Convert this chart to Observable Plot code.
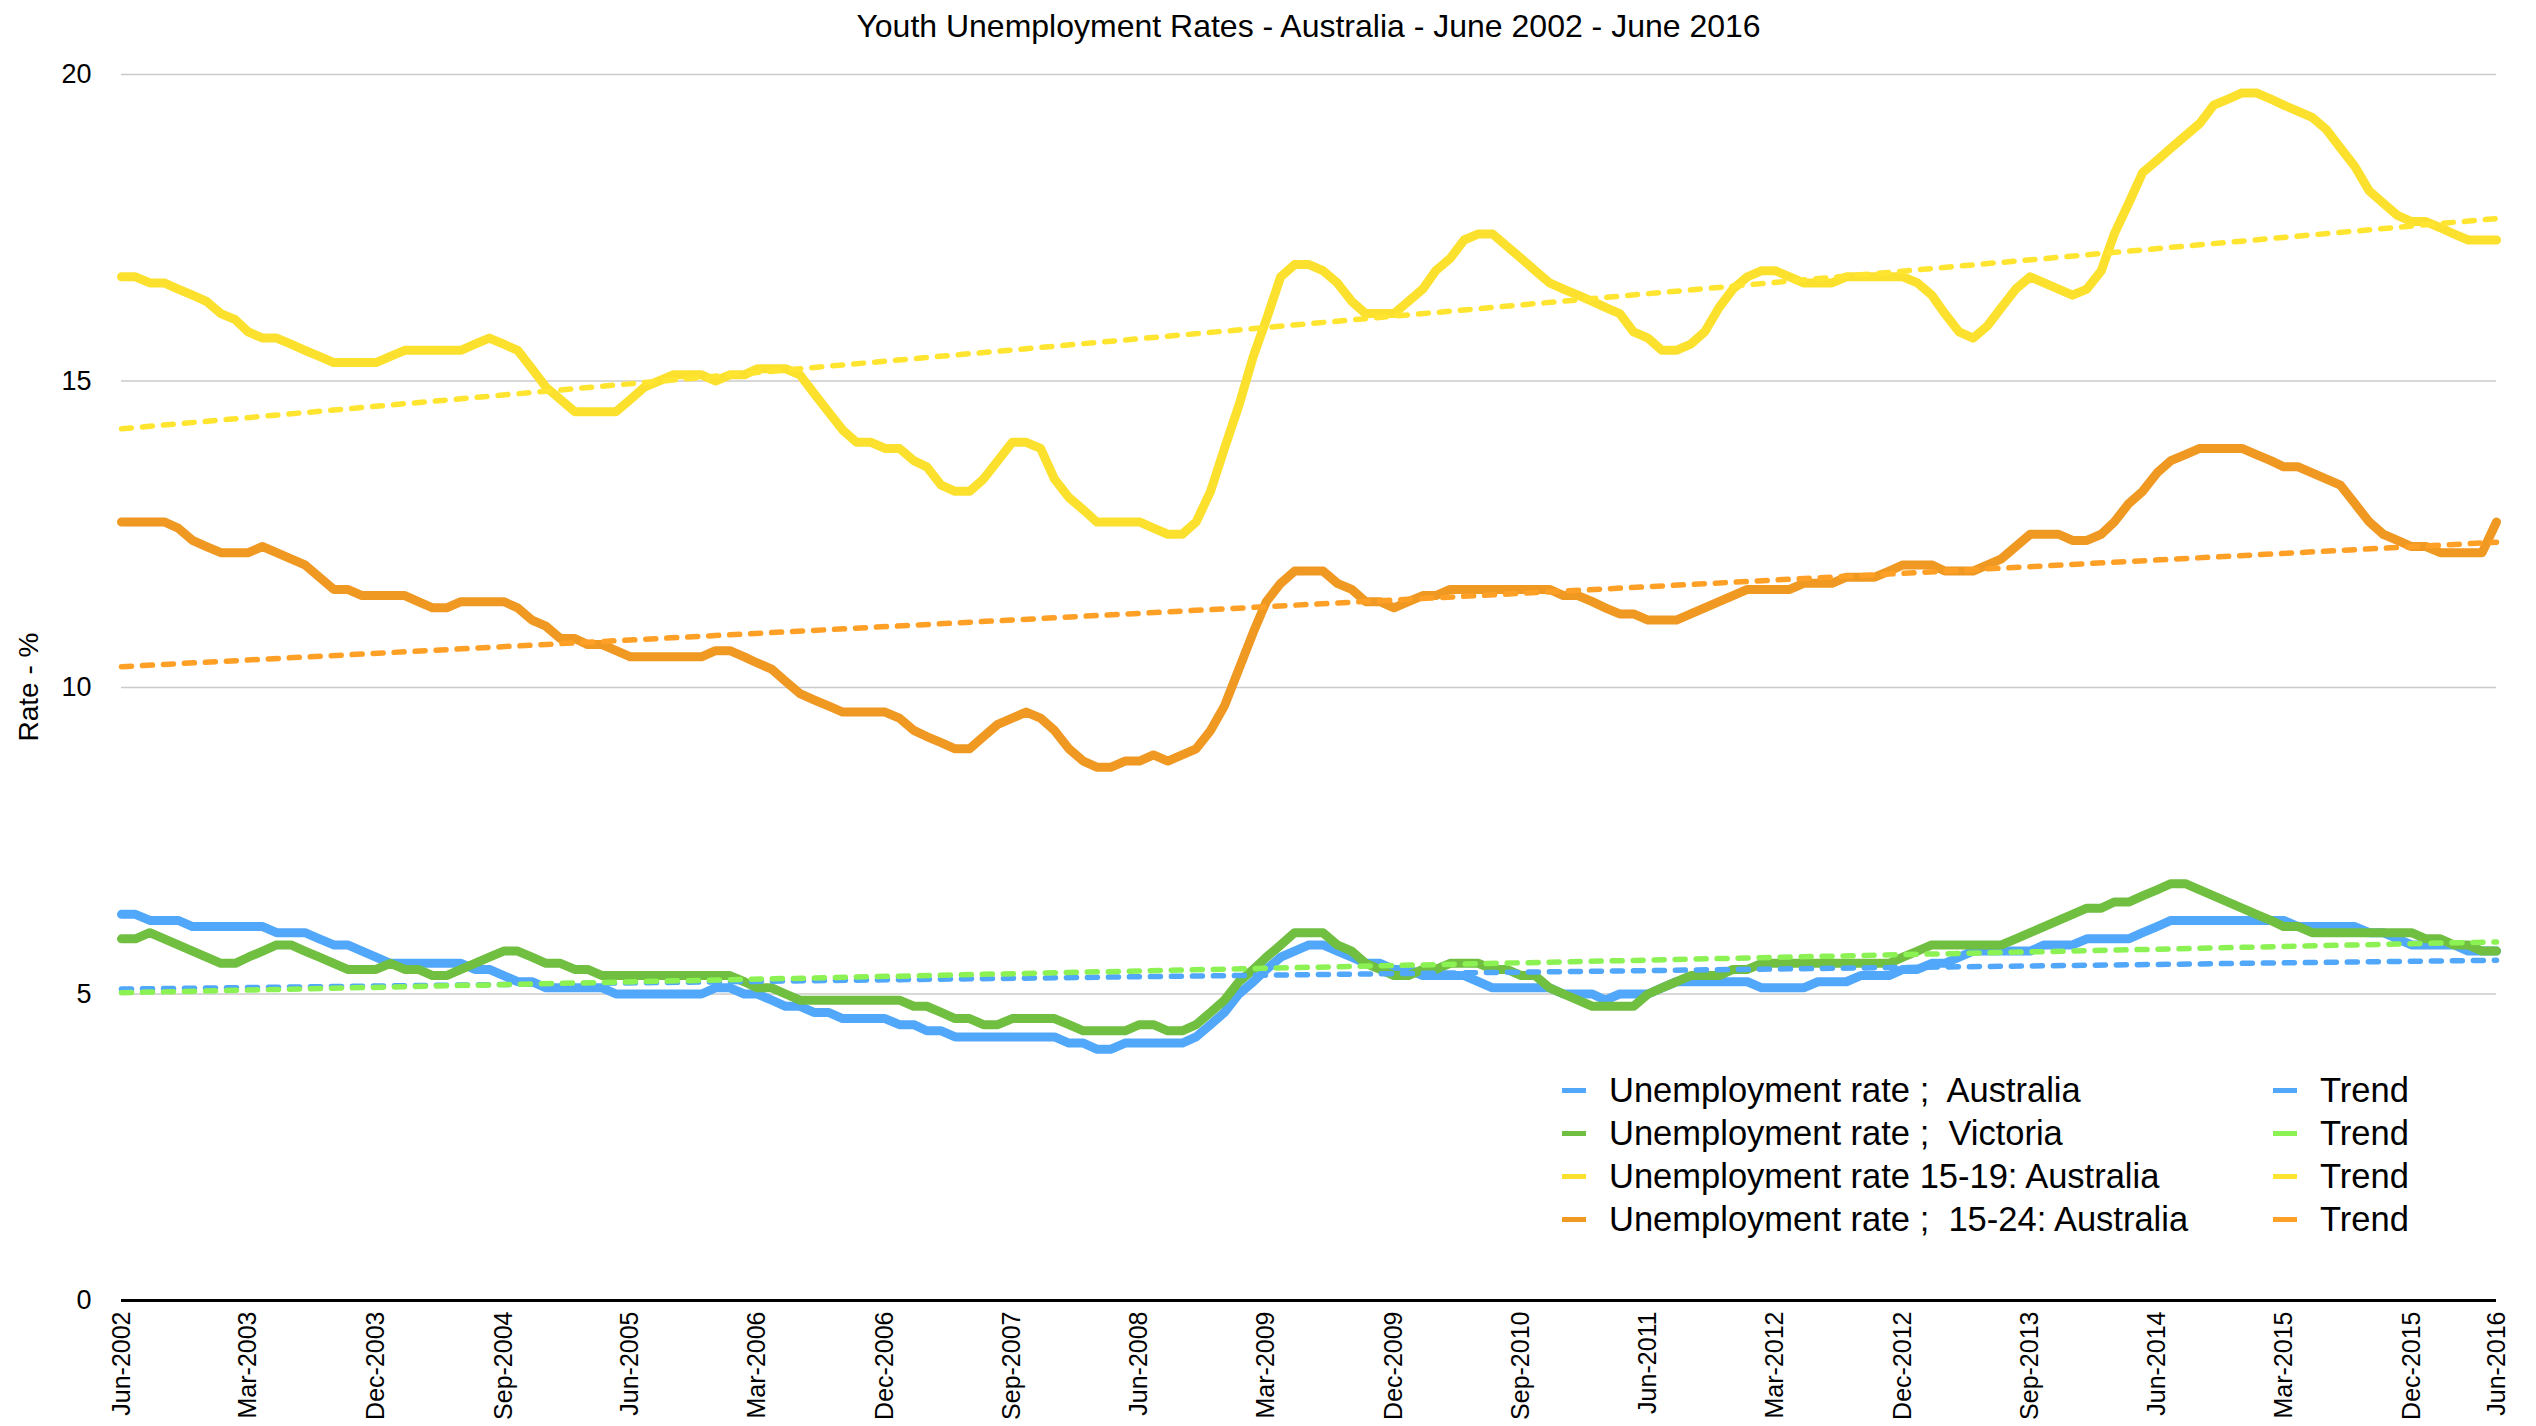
<!DOCTYPE html>
<html>
<head>
<meta charset="utf-8">
<script src="https://cdn.jsdelivr.net/npm/d3@7"></script>
<script src="https://cdn.jsdelivr.net/npm/@observablehq/plot@0.6"></script>
<style>
  html, body { margin: 0; padding: 0; background: #ffffff; }
  #wrap { position: relative; width: 2536px; height: 1426px; font-family: "Liberation Sans", Arial, sans-serif; color: #000; overflow: hidden; }
  #title { box-sizing: border-box; height: 50px; line-height: 52px; padding-left: 121px; padding-right: 40px; text-align: center; font-size: 32px; white-space: nowrap; }
  #ylabel { position: absolute; left: 29px; top: 687px; transform: translate(-50%, -50%) rotate(-90deg); font-size: 28px; white-space: nowrap; }
  .legcol { position: absolute; top: 1069px; }
  .legrow { display: flex; align-items: center; height: 43px; font-size: 34.5px; white-space: pre; }
  .sw { display: inline-block; width: 24px; height: 5px; margin-right: 23px; }
  #chart svg g[aria-label^="x-axis"] { font-size: 25px; }
</style>
</head>
<body>
<div id="wrap">
  <div id="title">Youth Unemployment Rates - Australia - June 2002 - June 2016</div>
  <div id="chart"></div>
  <div id="ylabel">Rate - %</div>
  <div id="legend1" class="legcol" style="left:1562px"></div>
  <div id="legend2" class="legcol" style="left:2273px"></div>
</div>
<script>
// ---- Data (monthly, Jun-2002 .. Jun-2016) ----
const firstMonth = "Jun-2002";
const tickLabels = ["Jun-2002","Mar-2003","Dec-2003","Sep-2004","Jun-2005","Mar-2006","Dec-2006","Sep-2007","Jun-2008","Mar-2009","Dec-2009","Sep-2010","Jun-2011","Mar-2012","Dec-2012","Sep-2013","Jun-2014","Mar-2015","Dec-2015","Jun-2016"];

const seriesNames = ["Unemployment rate ;  Australia", "Unemployment rate ;  Victoria", "Unemployment rate 15-19: Australia", "Unemployment rate ;  15-24: Australia"];
const lineColors = ["#51A7F9", "#70BF41", "#FBE12E", "#EF9822"];
const trendColors = ["#51A7F9", "#8CF254", "#FFE52F", "#FFA026"];

const australia = [
  6.3,6.3,6.2,6.2,6.2,6.1,6.1,6.1,6.1,6.1,6.1,6.0,
  6.0,6.0,5.9,5.8,5.8,5.7,5.6,5.5,5.5,5.5,5.5,5.5,
  5.5,5.4,5.4,5.3,5.2,5.2,5.1,5.1,5.1,5.1,5.1,5.0,
  5.0,5.0,5.0,5.0,5.0,5.0,5.1,5.1,5.0,5.0,4.9,4.8,
  4.8,4.7,4.7,4.6,4.6,4.6,4.6,4.5,4.5,4.4,4.4,4.3,
  4.3,4.3,4.3,4.3,4.3,4.3,4.3,4.2,4.2,4.1,4.1,4.2,
  4.2,4.2,4.2,4.2,4.3,4.5,4.7,5.0,5.2,5.4,5.6,5.7,
  5.8,5.8,5.7,5.6,5.5,5.5,5.4,5.4,5.3,5.3,5.3,5.3,
  5.2,5.1,5.1,5.1,5.1,5.1,5.0,5.0,5.0,4.9,5.0,5.0,
  5.0,5.1,5.2,5.2,5.2,5.2,5.2,5.2,5.1,5.1,5.1,5.1,
  5.2,5.2,5.2,5.3,5.3,5.3,5.4,5.4,5.5,5.5,5.6,5.7,
  5.7,5.7,5.7,5.7,5.8,5.8,5.8,5.9,5.9,5.9,5.9,6.0,
  6.1,6.2,6.2,6.2,6.2,6.2,6.2,6.2,6.2,6.2,6.1,6.1,
  6.1,6.1,6.1,6.0,6.0,5.9,5.8,5.8,5.8,5.8,5.7,5.7,
  5.7];

const victoria = [
  5.9,5.9,6.0,5.9,5.8,5.7,5.6,5.5,5.5,5.6,5.7,5.8,
  5.8,5.7,5.6,5.5,5.4,5.4,5.4,5.5,5.4,5.4,5.3,5.3,
  5.4,5.5,5.6,5.7,5.7,5.6,5.5,5.5,5.4,5.4,5.3,5.3,
  5.3,5.3,5.3,5.3,5.3,5.3,5.3,5.3,5.2,5.1,5.1,5.0,
  4.9,4.9,4.9,4.9,4.9,4.9,4.9,4.9,4.8,4.8,4.7,4.6,
  4.6,4.5,4.5,4.6,4.6,4.6,4.6,4.5,4.4,4.4,4.4,4.4,
  4.5,4.5,4.4,4.4,4.5,4.7,4.9,5.2,5.4,5.6,5.8,6.0,
  6.0,6.0,5.8,5.7,5.5,5.4,5.3,5.3,5.4,5.4,5.5,5.5,
  5.5,5.4,5.4,5.3,5.3,5.1,5.0,4.9,4.8,4.8,4.8,4.8,
  5.0,5.1,5.2,5.3,5.3,5.3,5.4,5.4,5.5,5.5,5.5,5.5,
  5.5,5.5,5.5,5.5,5.5,5.5,5.6,5.7,5.8,5.8,5.8,5.8,
  5.8,5.8,5.9,6.0,6.1,6.2,6.3,6.4,6.4,6.5,6.5,6.6,
  6.7,6.8,6.8,6.7,6.6,6.5,6.4,6.3,6.2,6.1,6.1,6.0,
  6.0,6.0,6.0,6.0,6.0,6.0,6.0,5.9,5.9,5.8,5.8,5.7,
  5.7];

const age15to19 = [
  16.7,16.7,16.6,16.6,16.5,16.4,16.3,16.1,16.0,15.8,15.7,15.7,
  15.6,15.5,15.4,15.3,15.3,15.3,15.3,15.4,15.5,15.5,15.5,15.5,
  15.5,15.6,15.7,15.6,15.5,15.2,14.9,14.7,14.5,14.5,14.5,14.5,
  14.7,14.9,15.0,15.1,15.1,15.1,15.0,15.1,15.1,15.2,15.2,15.2,
  15.1,14.8,14.5,14.2,14.0,14.0,13.9,13.9,13.7,13.6,13.3,13.2,
  13.2,13.4,13.7,14.0,14.0,13.9,13.4,13.1,12.9,12.7,12.7,12.7,
  12.7,12.6,12.5,12.5,12.7,13.2,13.9,14.6,15.4,16.0,16.7,16.9,
  16.9,16.8,16.6,16.3,16.1,16.1,16.1,16.3,16.5,16.8,17.0,17.3,
  17.4,17.4,17.2,17.0,16.8,16.6,16.5,16.4,16.3,16.2,16.1,15.8,
  15.7,15.5,15.5,15.6,15.8,16.2,16.5,16.7,16.8,16.8,16.7,16.6,
  16.6,16.6,16.7,16.7,16.7,16.7,16.7,16.6,16.4,16.1,15.8,15.7,
  15.9,16.2,16.5,16.7,16.6,16.5,16.4,16.5,16.8,17.4,17.9,18.4,
  18.6,18.8,19.0,19.2,19.5,19.6,19.7,19.7,19.6,19.5,19.4,19.3,
  19.1,18.8,18.5,18.1,17.9,17.7,17.6,17.6,17.5,17.4,17.3,17.3,
  17.3];

const age15to24 = [
  12.7,12.7,12.7,12.7,12.6,12.4,12.3,12.2,12.2,12.2,12.3,12.2,
  12.1,12.0,11.8,11.6,11.6,11.5,11.5,11.5,11.5,11.4,11.3,11.3,
  11.4,11.4,11.4,11.4,11.3,11.1,11.0,10.8,10.8,10.7,10.7,10.6,
  10.5,10.5,10.5,10.5,10.5,10.5,10.6,10.6,10.5,10.4,10.3,10.1,
  9.9,9.8,9.7,9.6,9.6,9.6,9.6,9.5,9.3,9.2,9.1,9.0,
  9.0,9.2,9.4,9.5,9.6,9.5,9.3,9.0,8.8,8.7,8.7,8.8,
  8.8,8.9,8.8,8.9,9.0,9.3,9.7,10.3,10.9,11.4,11.7,11.9,
  11.9,11.9,11.7,11.6,11.4,11.4,11.3,11.4,11.5,11.5,11.6,11.6,
  11.6,11.6,11.6,11.6,11.6,11.6,11.5,11.5,11.4,11.3,11.2,11.2,
  11.1,11.1,11.1,11.2,11.3,11.4,11.5,11.6,11.6,11.6,11.6,11.7,
  11.7,11.7,11.8,11.8,11.8,11.9,12.0,12.0,12.0,11.9,11.9,11.9,
  12.0,12.1,12.3,12.5,12.5,12.5,12.4,12.4,12.5,12.7,13.0,13.2,
  13.5,13.7,13.8,13.9,13.9,13.9,13.9,13.8,13.7,13.6,13.6,13.5,
  13.4,13.3,13.0,12.7,12.5,12.4,12.3,12.3,12.2,12.2,12.2,12.2,
  12.7];

// Linear trend lines: value at the first and at the last month
const trendStart = [5.08, 5.02, 14.22, 10.34];
const trendEnd   = [5.55, 5.85, 17.65, 12.37];

// ---- Build tables ----
const parseMonth = d3.utcParse("%b-%Y");
const start = parseMonth(firstMonth);
const seriesValues = [australia, victoria, age15to19, age15to24];
const tables = seriesValues.map(vals => vals.map((v, i) => ({date: d3.utcMonth.offset(start, i), value: v})));
const lastDate = d3.utcMonth.offset(start, australia.length - 1);
const trendTables = trendStart.map((s, k) => [{date: start, value: s}, {date: lastDate, value: trendEnd[k]}]);
const tickDates = tickLabels.map(parseMonth);

const marks = [
  Plot.ruleY([5, 10, 15, 20], {stroke: "#cbcbcb", strokeWidth: 1.5})
];
tables.forEach((t, k) => {
  marks.push(Plot.line(t, {x: "date", y: "value", stroke: lineColors[k], strokeWidth: 9, strokeLinejoin: "round"}));
});
trendTables.forEach((t, k) => {
  marks.push(Plot.line(t, {x: "date", y: "value", stroke: trendColors[k], strokeWidth: 5.5, strokeDasharray: "10,11"}));
});
marks.push(Plot.ruleY([0], {stroke: "#000", strokeWidth: 3}));

const chart = Plot.plot({
  width: 2536,
  height: 1376,
  marginTop: 24,
  marginBottom: 126,
  marginLeft: 121,
  marginRight: 40,
  style: {fontFamily: "'Liberation Sans', Arial, sans-serif", fontSize: "27px", background: "#ffffff", color: "#000"},
  x: {type: "utc", domain: [start, lastDate], ticks: tickDates, tickFormat: d3.utcFormat("%b-%Y"), tickRotate: -90, tickSize: 0, tickPadding: 11, label: null},
  y: {domain: [0, 20], ticks: [0, 5, 10, 15, 20], tickSize: 0, tickPadding: 30, label: null},
  marks
});
document.getElementById("chart").appendChild(chart);

// ---- Legend ----
const leg1 = document.getElementById("legend1");
const leg2 = document.getElementById("legend2");
seriesNames.forEach((name, k) => {
  const r1 = document.createElement("div");
  r1.className = "legrow";
  r1.innerHTML = `<span class="sw" style="background:${lineColors[k]}"></span><span></span>`;
  r1.lastChild.textContent = name;
  leg1.appendChild(r1);
  const r2 = document.createElement("div");
  r2.className = "legrow";
  r2.innerHTML = `<span class="sw" style="background:${trendColors[k]}"></span><span>Trend</span>`;
  leg2.appendChild(r2);
});
</script>
</body>
</html>
